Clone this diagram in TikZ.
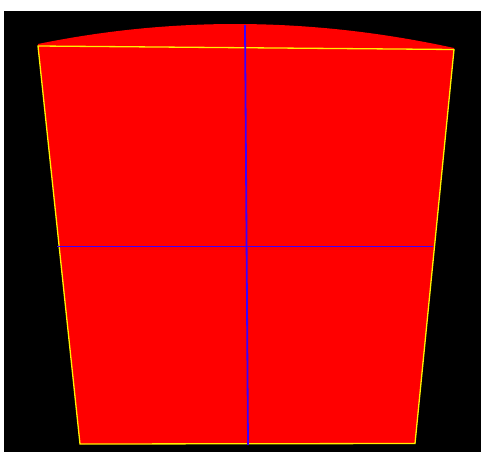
\documentclass[tikz,border=0pt]{standalone}
\usepackage{tikz}
\definecolor{fillred}{HTML}{FF0000}
\definecolor{edgeyellow}{HTML}{FFF000}
\definecolor{axisblue}{HTML}{3A00FF}
\tikzset{
  edgeline/.style={draw=edgeyellow, line width=1.3pt},
  axisline/.style={draw=axisblue, line width=1.8pt},
}

\begin{document}
\begin{tikzpicture}[x=1pt, y=-1pt]
  % Frame
  \useasboundingbox (0,0) rectangle (481,452);
  \fill[white] (0,0) rectangle (481,452);
  \fill[black] (4,11) rectangle (481,452);

  % Corners
  \coordinate (tl) at (38,46);
  \coordinate (tr) at (454,49.5);
  \coordinate (bl) at (80,444);
  \coordinate (br) at (415,443.5);
  \coordinate (top) at (245,25);
  \coordinate (bottom) at (248,445);
  \coordinate (left) at (57,246.5);
  \coordinate (right) at (433,246.5);

  % Patch
  \fill[fillred] (38,44) .. controls (175,16) and (314,17.5) .. (454,48)
    -- (br) -- (bl) -- cycle;

  % Outline
  \draw[edgeline] (tl) -- (tr) -- (br) -- (bl) -- cycle;

  % Axes
  \draw[axisline] (top) -- (bottom);
  \draw[axisline] (left) -- (right);
\end{tikzpicture}
\end{document}
